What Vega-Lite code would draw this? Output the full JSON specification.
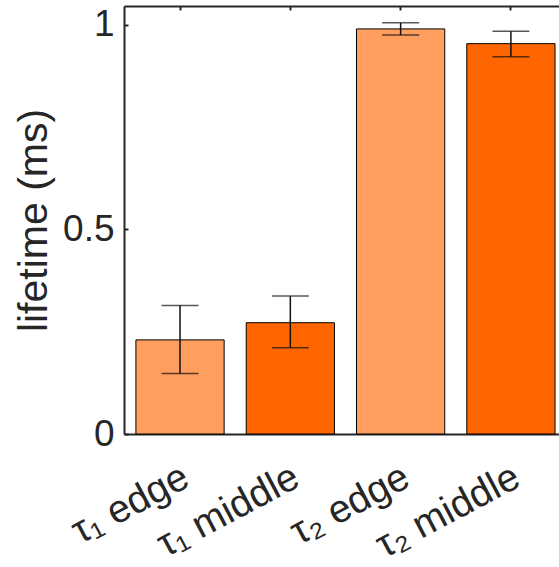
{
  "$schema": "https://vega.github.io/schema/vega-lite/v6.json",
  "autosize": "none",
  "width": 435,
  "height": 428,
  "padding": {"left": 124, "top": 6, "right": 0, "bottom": 133},
  "background": "white",
  "config": {
    "view": {"stroke": null},
    "font": "Liberation Sans",
    "axis": {
      "domainColor": "#262626",
      "domainWidth": 2,
      "tickColor": "#262626",
      "tickWidth": 2,
      "labelColor": "#262626",
      "titleColor": "#262626",
      "grid": false
    }
  },
  "data": {
    "values": [
      {"label": "τ₁ edge", "kind": "edge", "value": 0.230, "lo": 0.148, "hi": 0.314},
      {"label": "τ₁ middle", "kind": "middle", "value": 0.272, "lo": 0.211, "hi": 0.337},
      {"label": "τ₂ edge", "kind": "edge", "value": 0.990, "lo": 0.975, "hi": 1.005},
      {"label": "τ₂ middle", "kind": "middle", "value": 0.954, "lo": 0.922, "hi": 0.984}
    ]
  },
  "resolve": {"axis": {"x": "independent"}},
  "layer": [
    {
      "mark": {"type": "bar", "stroke": "black", "strokeWidth": 1},
      "encoding": {
        "x": {
          "field": "label", "type": "nominal", "sort": null,
          "scale": {"paddingInner": 0.2, "paddingOuter": 0.072, "align": 0.75},
          "axis": {
            "orient": "bottom", "title": null,
            "labelAngle": -28, "labelAlign": "right", "labelBaseline": "middle",
            "labelFontSize": 39, "labelPadding": 44, "labelOffset": 6,
            "labelOverlap": false, "labelBound": false,
            "tickSize": -4
          }
        },
        "y": {
          "field": "value", "type": "quantitative",
          "scale": {"domain": [0, 1.046], "nice": false},
          "axis": {
            "values": [0, 0.5, 1], "format": "~g", "title": "lifetime (ms)",
            "titleFontSize": 41, "titleFontWeight": "normal", "titlePadding": 7,
            "labelFontSize": 37, "labelPadding": 14, "tickSize": -4,
            "labelFlush": false
          }
        },
        "color": {
          "field": "kind", "type": "nominal", "legend": null,
          "scale": {"domain": ["edge", "middle"], "range": ["#FF9E5E", "#FF6600"]}
        }
      }
    },
    {
      "mark": {"type": "rule", "color": "#111111", "strokeWidth": 1.5},
      "encoding": {
        "x": {
          "field": "label", "type": "nominal", "sort": null,
          "axis": {"orient": "top", "title": null, "labels": false, "tickSize": -4}
        },
        "y": {"field": "lo", "type": "quantitative"},
        "y2": {"field": "hi"}
      }
    },
    {
      "mark": {"type": "tick", "color": "#111111", "thickness": 1.5, "size": 37},
      "encoding": {
        "x": {"field": "label", "type": "nominal", "sort": null, "axis": null},
        "y": {"field": "lo", "type": "quantitative"}
      }
    },
    {
      "mark": {"type": "tick", "color": "#111111", "thickness": 1.5, "size": 37},
      "encoding": {
        "x": {"field": "label", "type": "nominal", "sort": null, "axis": null},
        "y": {"field": "hi", "type": "quantitative"}
      }
    }
  ]
}
